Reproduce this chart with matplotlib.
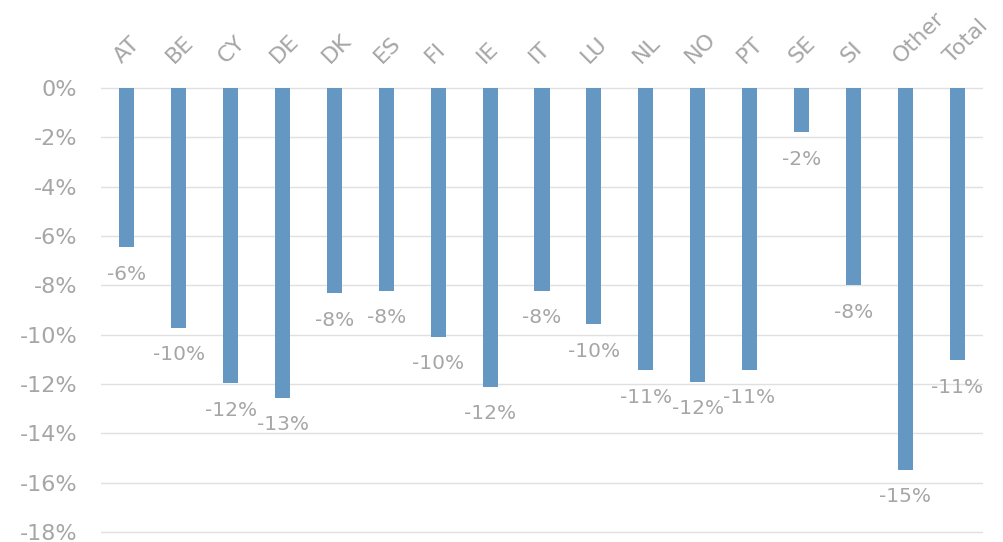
import matplotlib
matplotlib.use("Agg")
import matplotlib.pyplot as plt
from matplotlib.ticker import FuncFormatter, MultipleLocator
from matplotlib.transforms import blended_transform_factory, offset_copy

# Year-on-year change by country, percent
countries = ["AT", "BE", "CY", "DE", "DK", "ES", "FI", "IE", "IT", "LU",
             "NL", "NO", "PT", "SE", "SI", "Other", "Total"]
change_pct = [-6.45, -9.72, -11.96, -12.55, -8.31, -8.22, -10.09, -12.11,
              -8.22, -9.58, -11.45, -11.90, -11.45, -1.79, -8.0, -15.47, -11.03]

BAR_COLOR = "#6497C2"
TEXT_COLOR = "#A6A6A6"
GRID_COLOR = "#E0E0E0"

plt.rcParams["font.family"] = ["DejaVu Sans"]

fig = plt.figure(figsize=(10.04, 5.42), dpi=100)
ax = fig.add_axes([101 / 1004, 1 - 534 / 542, 882 / 1004, (534 - 86) / 542])

x = list(range(len(countries)))
ax.bar(x, change_pct, width=0.29, color=BAR_COLOR, zorder=3)

ax.set_xlim(-0.5, len(countries) - 0.5)
ax.set_ylim(-18.08, 0.08)
ax.yaxis.set_major_locator(MultipleLocator(2))
ax.yaxis.set_major_formatter(FuncFormatter(lambda v, _: f"{v:.0f}%".replace("\u2212", "-")))
ax.grid(axis="y", color=GRID_COLOR, linewidth=1.0, zorder=0)
ax.set_axisbelow(True)
ax.set_xticks([])
ax.tick_params(axis="y", length=0, pad=17, labelsize=16, labelcolor=TEXT_COLOR)
for s in ax.spines.values():
    s.set_visible(False)

# Category names above the zero line, rotated
top = blended_transform_factory(ax.transData, ax.transAxes)
for xi, name in zip(x, countries):
    ax.text(xi - 0.04, 1.0, name, transform=offset_copy(top, fig=fig, y=14, units="points"),
            rotation=45, rotation_mode="anchor", ha="left", va="bottom",
            fontsize=16, color=TEXT_COLOR, clip_on=False)

# Value labels under each bar
for xi, v in zip(x, change_pct):
    ax.annotate(f"{round(v):d}%", (xi, v), xytext=(0, -19.5), textcoords="offset points",
                ha="center", va="center", fontsize=14.5, color=TEXT_COLOR)

fig.savefig("out.png", dpi=100)
